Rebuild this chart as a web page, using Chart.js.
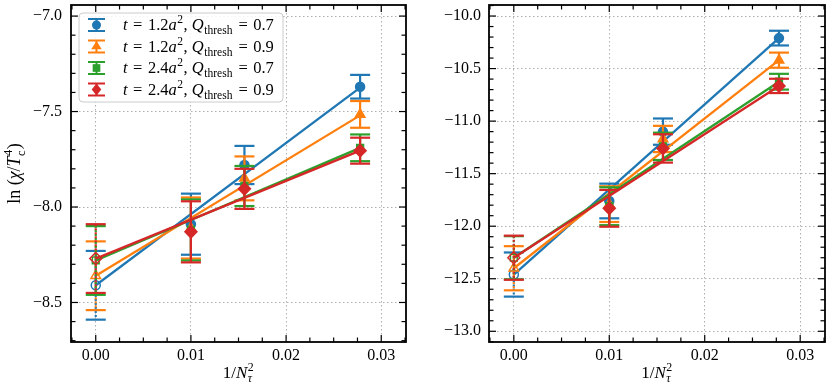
<!DOCTYPE html>
<html>
<head>
<meta charset="utf-8">
<script src="https://cdn.jsdelivr.net/npm/chart.js@4.4.0/dist/chart.umd.min.js"></script>
<style>
  html, body { margin: 0; padding: 0; background: #fff; }
  #wrap { position: relative; width: 831px; height: 392px; overflow: hidden; }
  .panel { position: absolute; top: 0; height: 392px; }
</style>
</head>
<body>
<div id="wrap">
  <div class="panel" style="left:0;width:415px"><canvas id="left"></canvas></div>
  <div class="panel" style="left:415px;width:416px"><canvas id="right"></canvas></div>
</div>
<script>
// x positions: 1/N_tau^2 for the continuum extrapolation, N_tau = 10, 8, 6
const invNt2 = [0, 0.01, 0.015625, 0.027778];
const tValues = ['1.2', '1.2', '2.4', '2.4'];
const qValues = ['0.7', '0.9', '0.7', '0.9'];

// left panel
const leftBlue = [-8.41, -8.09, -7.78, -7.37];
const leftBlueErr = [0.18, 0.16, 0.10, 0.062];
const leftOrange = [-8.36, -8.11, -7.85, -7.515];
const leftOrangeErr = [0.18, 0.16, 0.115, 0.07];
const leftGreen = [-8.28, -8.12, -7.89, -7.69];
const leftGreenErr = [0.18, 0.16, 0.105, 0.07];
const leftRed = [-8.27, -8.13, -7.905, -7.705];
const leftRedErr = [0.18, 0.16, 0.105, 0.068];
const leftFitEnd = [-7.375, -7.52, -7.69, -7.705];
const leftYTicks = [-8.5, -8.0, -7.5, -7.0];
const leftYRange = [-8.707, -6.942];

// right panel
const rightBlue = [-12.46, -11.76, -11.10, -10.21];
const rightBlueErr = [0.21, 0.165, 0.125, 0.07];
const rightOrange = [-12.40, -11.79, -11.17, -10.42];
const rightOrangeErr = [0.21, 0.17, 0.125, 0.072];
const rightGreen = [-12.30, -11.81, -11.24, -10.625];
const rightGreenErr = [0.205, 0.18, 0.13, 0.075];
const rightRed = [-12.30, -11.83, -11.26, -10.665];
const rightRedErr = [0.21, 0.175, 0.135, 0.068];
const rightFitEnd = [-10.21, -10.42, -10.625, -10.665];
const rightYTicks = [-13.0, -12.5, -12.0, -11.5, -11.0, -10.5, -10.0];
const rightYRange = [-13.102, -9.895];

const xTicks = [0, 0.01, 0.02, 0.03];
const xRange = [-0.0026, 0.0326];

const FONT = "'Liberation Serif', 'DejaVu Serif', serif";
const colors = ['#1f77b4', '#ff7f0e', '#2ca02c', '#d62728'];
const markers = ['circle', 'triangle', 'rect', 'rectRot'];
const markerSize = [4.5, 5.5, 4.8, 6];

const fmt = (v, d) => v.toFixed(d).replace('-', '\u2212');

const buildDatasets = (vals, errs, fitEnd) => {
    const ds = [];
    vals.forEach((v, i) => {
        // fit line from the extrapolated point to N_tau = 6
        ds.push({
            data: [{x: invNt2[0], y: v[0]}, {x: invNt2[3], y: fitEnd[i]}],
            showLine: true, borderColor: colors[i], borderWidth: 2.3,
            pointRadius: 0, order: 8 - 2 * i
        });
        ds.push({
            data: invNt2.map((x, k) => ({x, y: v[k]})),
            errors: errs[i],
            color: colors[i],
            pointStyle: markers[i],
            pointRadius: markerSize[i],
            pointBackgroundColor: invNt2.map((x, k) => k === 0 ? 'rgba(0,0,0,0)' : colors[i]),
            pointBorderColor: colors[i],
            pointBorderWidth: 1.5,
            showLine: false,
            order: 7 - 2 * i
        });
    });
    return ds;
};

const strokeLine = (ctx, x1, y1, x2, y2) => {
    ctx.beginPath();
    ctx.moveTo(x1, y1);
    ctx.lineTo(x2, y2);
    ctx.stroke();
};

const errorBars = {
    id: 'errorBars',
    beforeDatasetDraw(chart, args) {
        const ds = chart.data.datasets[args.index];
        if (!ds.errors) return;
        const {ctx} = chart;
        const xs = chart.scales.x, ys = chart.scales.y;
        ctx.save();
        ctx.strokeStyle = ds.color;
        ctx.lineWidth = 2.2;
        ds.data.forEach((p, k) => {
            const px = xs.getPixelForValue(p.x);
            const top = ys.getPixelForValue(p.y + ds.errors[k]);
            const bot = ys.getPixelForValue(p.y - ds.errors[k]);
            ctx.setLineDash(k === 0 ? [2, 2] : []);
            strokeLine(ctx, px, top, px, bot);
            ctx.setLineDash([]);
            strokeLine(ctx, px - 10, top, px + 10, top);
            strokeLine(ctx, px - 10, bot, px + 10, bot);
        });
        ctx.restore();
    }
};

// box around the axes plus inward major/minor ticks on all four sides
const mplFrame = {
    id: 'mplFrame',
    afterDatasetsDraw(chart, args, opts) {
        const {ctx, chartArea: a} = chart;
        const xs = chart.scales.x, ys = chart.scales.y;
        ctx.save();
        ctx.strokeStyle = '#000';
        ctx.lineWidth = 1.2;
        const minors = (scale, step, majors) => {
            const out = [];
            for (let k = Math.ceil(scale.min / step); k <= Math.floor(scale.max / step); k++) {
                const v = k * step;
                if (!majors.some(m => Math.abs(m - v) < step / 10)) out.push(v);
            }
            return out;
        };
        const xMaj = xs.ticks.map(t => t.value);
        const yMaj = ys.ticks.map(t => t.value);
        const tickX = (vals, len) => vals.forEach(v => {
            const px = xs.getPixelForValue(v);
            strokeLine(ctx, px, a.bottom, px, a.bottom - len);
            strokeLine(ctx, px, a.top, px, a.top + len);
        });
        const tickY = (vals, len) => vals.forEach(v => {
            const py = ys.getPixelForValue(v);
            strokeLine(ctx, a.left, py, a.left + len, py);
            strokeLine(ctx, a.right, py, a.right - len, py);
        });
        tickX(xMaj, 7);
        tickX(minors(xs, opts.xMinor, xMaj), 4.5);
        tickY(yMaj, 7);
        tickY(minors(ys, opts.yMinor, yMaj), 4.5);
        ctx.lineWidth = 1.8;
        ctx.strokeRect(a.left, a.top, a.right - a.left, a.bottom - a.top);
        ctx.restore();
    }
};

// text with italic pieces and sub/superscripts
const fontFor = (italic, size) => `${italic ? 'italic ' : ''}${size}px ${FONT}`;
const partWidth = (ctx, p, size) => {
    if (p.t === undefined) {
        let w = 0;
        ctx.font = fontFor(p.subI, size * 0.7);
        if (p.sub) w = Math.max(w, ctx.measureText(p.sub).width);
        ctx.font = fontFor(p.supI, size * 0.7);
        if (p.sup) w = Math.max(w, ctx.measureText(p.sup).width);
        return w + 1;
    }
    ctx.font = fontFor(p.i, size);
    return ctx.measureText(p.t).width;
};
const drawRich = (ctx, parts, x, y, size, align) => {
    const total = parts.reduce((s, p) => s + partWidth(ctx, p, size), 0);
    let cx = align === 'center' ? x - total / 2 : x;
    ctx.textBaseline = 'alphabetic';
    ctx.textAlign = 'left';
    ctx.fillStyle = '#000';
    parts.forEach(p => {
        const w = partWidth(ctx, p, size);
        if (p.t === undefined) {
            if (p.sub) {
                ctx.font = fontFor(p.subI, size * 0.7);
                ctx.fillText(p.sub, cx + 0.5, y + size * 0.25);
            }
            if (p.sup) {
                ctx.font = fontFor(p.supI, size * 0.7);
                ctx.fillText(p.sup, cx + 0.5, y - size * 0.42);
            }
        } else {
            ctx.font = fontFor(p.i, size);
            ctx.fillText(p.t, cx, y);
        }
        cx += w;
    });
};

const drawMarker = (ctx, style, x, y, r) => {
    ctx.beginPath();
    if (style === 'circle') {
        ctx.arc(x, y, r, 0, Math.PI * 2);
    } else if (style === 'triangle') {
        const h = r * 1.5;
        ctx.moveTo(x, y - h * 0.66);
        ctx.lineTo(x + r * 0.87 * 1.1, y + h * 0.34);
        ctx.lineTo(x - r * 0.87 * 1.1, y + h * 0.34);
        ctx.closePath();
    } else if (style === 'rect') {
        const s = r * 0.8;
        ctx.rect(x - s, y - s, 2 * s, 2 * s);
    } else {
        ctx.moveTo(x, y - r);
        ctx.lineTo(x + r * 0.8, y);
        ctx.lineTo(x, y + r);
        ctx.lineTo(x - r * 0.8, y);
        ctx.closePath();
    }
    ctx.fill();
};

const EQ = '\u2004=\u2004';

const mplLegend = {
    id: 'mplLegend',
    afterDraw(chart, args, opts) {
        if (!opts.show) return;
        const {ctx} = chart;
        ctx.save();
        const bx = 79, by = 13, bw = 204, bh = 89;
        ctx.beginPath();
        ctx.roundRect(bx, by, bw, bh, 4);
        ctx.fillStyle = 'rgba(255,255,255,0.85)';
        ctx.fill();
        ctx.strokeStyle = '#cccccc';
        ctx.lineWidth = 1;
        ctx.stroke();
        tValues.forEach((t, i) => {
            const cy = 25 + i * 21.5;
            const gx = 96.5;
            ctx.strokeStyle = colors[i];
            ctx.fillStyle = colors[i];
            ctx.lineWidth = 2;
            strokeLine(ctx, gx, cy - 6, gx, cy + 6);
            strokeLine(ctx, gx - 8.5, cy - 6, gx + 8.5, cy - 6);
            strokeLine(ctx, gx - 8.5, cy + 6, gx + 8.5, cy + 6);
            drawMarker(ctx, markers[i], gx, cy, markerSize[i]);
            drawRich(ctx, [
                {t: 't', i: true}, {t: EQ + t}, {t: 'a', i: true}, {sup: '2'},
                {t: ', '}, {t: 'Q', i: true}, {sub: 'thresh'}, {t: EQ + qValues[i]}
            ], 123, cy + 5, 16.5, 'left');
        });
        ctx.restore();
    }
};

const axisTitles = {
    id: 'axisTitles',
    afterDraw(chart, args, opts) {
        const {ctx, chartArea: a} = chart;
        ctx.save();
        drawRich(ctx, [{t: '1/'}, {t: 'N', i: true}, {sub: '\u03c4', subI: true, sup: '2'}],
            (a.left + a.right) / 2, 378, 17, 'center');
        if (opts.y) {
            ctx.translate(20, (a.top + a.bottom) / 2);
            ctx.rotate(-Math.PI / 2);
            drawRich(ctx, [{t: 'ln ('}, {t: '\u03c7', i: true}, {t: '/'}, {t: 'T', i: true},
                {sub: 'c', sup: '4'}, {t: ')'}], 0, 0, 18, 'center');
        }
        ctx.restore();
    }
};

const tickFont = {family: FONT, size: 16};

const makeChart = (id, vals, errs, fitEnd, yRange, yTicks, o) => new Chart(document.getElementById(id), {
    type: 'scatter',
    data: {datasets: buildDatasets(vals, errs, fitEnd)},
    options: {
        responsive: true,
        maintainAspectRatio: false,
        animation: false,
        layout: {autoPadding: false, padding: {left: 0, top: 5, right: o.padRight, bottom: 0}},
        plugins: {
            legend: {display: false},
            tooltip: {enabled: false},
            mplFrame: {xMinor: 0.0025, yMinor: 0.1},
            mplLegend: {show: o.legend},
            axisTitles: {y: o.yTitle}
        },
        scales: {
            x: {
                type: 'linear', min: xRange[0], max: xRange[1],
                afterBuildTicks: s => { s.ticks = xTicks.map(v => ({value: v})); },
                afterFit: s => { s.height = 50; s.paddingLeft = 0; s.paddingRight = 0; },
                ticks: {callback: v => fmt(v, 2), font: tickFont, color: '#000', padding: 4, maxRotation: 0, autoSkip: false},
                grid: {color: '#b0b0b0', lineWidth: 1, drawTicks: false},
                border: {display: false, dash: [1.5, 2.5]}
            },
            y: {
                type: 'linear', min: yRange[0], max: yRange[1],
                afterBuildTicks: s => { s.ticks = yTicks.map(v => ({value: v})); },
                afterFit: s => { s.width = o.yWidth; s.paddingTop = 0; s.paddingBottom = 0; },
                ticks: {callback: v => fmt(v, 1), font: tickFont, color: '#000', padding: o.yPad, autoSkip: false},
                grid: {color: '#b0b0b0', lineWidth: 1, drawTicks: false},
                border: {display: false, dash: [1.5, 2.5]}
            }
        }
    },
    plugins: [errorBars, mplFrame, mplLegend, axisTitles]
});

makeChart('left',
    [leftBlue, leftOrange, leftGreen, leftRed],
    [leftBlueErr, leftOrangeErr, leftGreenErr, leftRedErr],
    leftFitEnd, leftYRange, leftYTicks,
    {padRight: 9, yWidth: 71, yPad: 9, legend: true, yTitle: true});

makeChart('right',
    [rightBlue, rightOrange, rightGreen, rightRed],
    [rightBlueErr, rightOrangeErr, rightGreenErr, rightRedErr],
    rightFitEnd, rightYRange, rightYTicks,
    {padRight: 6, yWidth: 74, yPad: 8, legend: false, yTitle: false});
</script>
</body>
</html>
